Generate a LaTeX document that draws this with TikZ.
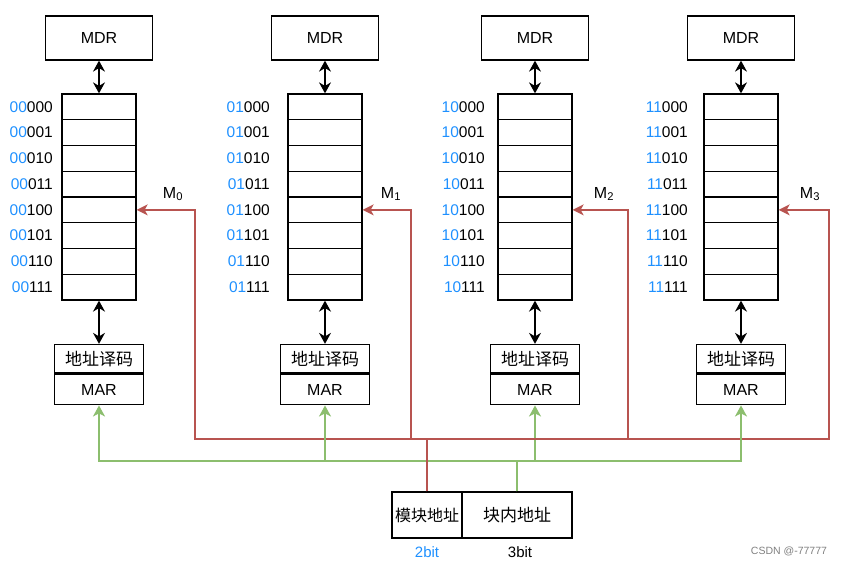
\documentclass[tikz,border=0pt]{standalone}
\usepackage{fontspec}
\setmainfont{Liberation Sans}
\newfontfamily\cjk{Noto Sans CJK SC}
\usetikzlibrary{arrows.meta}
\definecolor{addrblue}{RGB}{30,144,255}
\definecolor{selred}{RGB}{184,84,80}
\definecolor{busgreen}{RGB}{140,190,110}
\tikzset{
  box/.style={draw=black, line width=1.3pt, inner sep=0pt, fill=white,
    font=\fontsize{16}{18}\selectfont},
  cellbox/.style={draw=black, line width=1.3pt, inner sep=0pt,
    minimum width=74pt, minimum height=25.75pt},
  addrlabel/.style={anchor=east, inner sep=0pt, font=\fontsize{15.5}{17}\selectfont},
  datalink/.style={line width=1.4pt, {Stealth[length=11pt,width=12pt]}-{Stealth[length=11pt,width=12pt]}},
  selline/.style={draw=selred, line width=1.6pt, -{Stealth[length=11pt,width=11pt,inset=3pt]}},
  busline/.style={draw=busgreen, line width=1.6pt, -{Stealth[length=11pt,width=12pt,inset=3pt]}},
  banklabel/.style={font=\fontsize{16}{18}\selectfont},
}
\begin{document}
\begin{tikzpicture}[x=1pt,y=-1pt]
  \useasboundingbox (0,0) rectangle (847,565);

  % address register split into bank bits and offset bits
  \node[box, minimum width=70pt, minimum height=46pt, font=\cjk\fontsize{16}{18}\selectfont]
    (mod) at (427,515) {模块地址};
  \node[box, minimum width=110pt, minimum height=46pt, font=\cjk\fontsize{17}{19}\selectfont]
    (blk) at (517,515) {块内地址};
  \node[text=addrblue, font=\fontsize{15}{17}\selectfont] (b2) at (427,552) {2bit};
  \node[font=\fontsize{15}{17}\selectfont] (b3) at (520,552) {3bit};

  % shared junction points of the select and address buses
  \coordinate (rjoin) at (427,439);
  \coordinate (gjoin) at (517,461);

  % four memory banks
  \foreach \i/\pre/\cx/\lx/\rx/\mx in {0/00/99/53/195/173, 1/01/325/270/411/391,
                                      2/10/535/485/628/604, 3/11/741/688/829/810} {
    \node[box, minimum width=107pt, minimum height=44pt] (mdr\i) at (\cx,38) {MDR};
    \foreach \j/\suf in {1/000,2/001,3/010,4/011,5/100,6/101,7/110,8/111} {
      \node[cellbox] (c\i-\j) at (\cx,{94+(\j-0.5)*25.75}) {};
      \node[addrlabel] (l\i-\j) at (\lx,{94+(\j-0.5)*25.75}) {\textcolor{addrblue}{\pre}\suf};
    }
    \node[box, minimum width=89pt, minimum height=28.5pt, font=\cjk\fontsize{17}{19}\selectfont]
      (dec\i) at (\cx,358.75) {地址译码};
    \node[box, minimum width=89pt, minimum height=30.5pt, anchor=north] (mar\i) at (dec\i.south) {MAR};

    \draw[datalink] (mdr\i) -- (c\i-1);
    \draw[datalink] (c\i-8) -- (dec\i);

    \node[banklabel] (m\i) at (\mx,194) {M\textsubscript{\i}};
    \coordinate (rv\i) at (\rx,439);
    \draw[selline] (mod.north) -- (rjoin) -- (rv\i) |- (c\i-5.east);
    \draw[busline] (blk.north) -- (gjoin) -| (mar\i.south);
  }

  \node[text=gray, font=\fontsize{10.5}{12}\selectfont] (mark) at (789,551) {CSDN @-77777};
\end{tikzpicture}
\end{document}
